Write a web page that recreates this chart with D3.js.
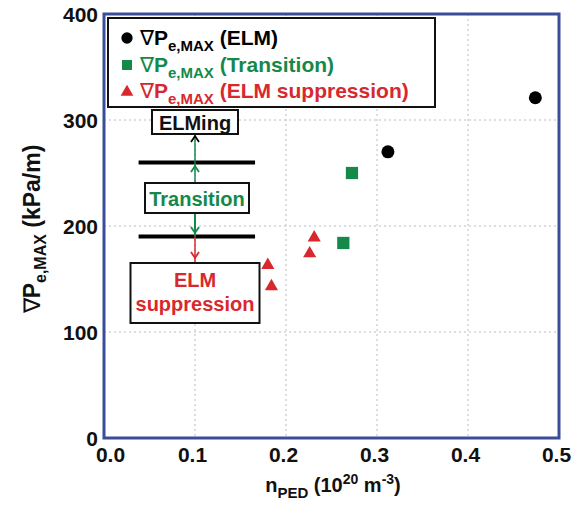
<!DOCTYPE html>
<html><head><meta charset="utf-8">
<script src="https://cdn.jsdelivr.net/npm/d3@7"></script>
<style>body{margin:0;background:#fff}svg{display:block}text{font-family:"Liberation Sans",Arial,sans-serif;font-weight:bold}</style>
</head><body>
<svg id="c" width="579" height="510"></svg>
<script>
// data
const elmX = [0.312, 0.474];
const elmY = [270, 321];
const transX = [0.2725, 0.263];
const transY = [250, 184];
const suppX = [0.231, 0.226, 0.180, 0.184];
const suppY = [189, 174, 163, 143];
const xTicks = [0.0, 0.1, 0.2, 0.3, 0.4, 0.5];
const yTicks = [0, 100, 200, 300, 400];
const thresholds = [260, 190];
const legendLabels = ["(ELM)", "(Transition)", "(ELM suppression)"];

const BLACK = "#000", GREEN = "#14894a", RED = "#d8282e", FRAME = "#3a4d99";
const svg = d3.select("#c");
const x = d3.scaleLinear().domain([0, 0.5]).range([104, 559]);
const y = d3.scaleLinear().domain([0, 400]).range([438, 14]);

// grid
svg.append("g").selectAll("line").data(xTicks.slice(1, -1)).join("line")
  .attr("x1", d => x(d)).attr("x2", d => x(d)).attr("y1", y(400)).attr("y2", y(0))
  .attr("stroke", "#b8bcc8").attr("stroke-width", 1).attr("stroke-dasharray", "2,3");
svg.append("g").selectAll("line").data(yTicks.slice(1, -1)).join("line")
  .attr("y1", d => y(d)).attr("y2", d => y(d)).attr("x1", x(0)).attr("x2", x(0.5))
  .attr("stroke", "#b8bcc8").attr("stroke-width", 1).attr("stroke-dasharray", "2,3");

// axes (labels only)
const xa = svg.append("g").attr("transform", `translate(0,${y(0)})`)
  .call(d3.axisBottom(x).tickValues(xTicks).tickFormat(d3.format(".1f")).tickSize(0).tickPadding(9));
xa.select(".domain").remove();
xa.selectAll("text").attr("font-size", 21).attr("fill", "#111").attr("font-family", null)
  .attr("dx", (d, i) => i === 0 ? 6 : -3);
const ya = svg.append("g").attr("transform", `translate(${x(0)},0)`)
  .call(d3.axisLeft(y).tickValues(yTicks).tickFormat(d3.format("d")).tickSize(0).tickPadding(6));
ya.select(".domain").remove();
ya.selectAll("text").attr("font-size", 21).attr("fill", "#111").attr("font-family", null).attr("dy", "0.36em");

// frame
svg.append("rect").attr("x", x(0)).attr("y", y(400)).attr("width", x(0.5) - x(0)).attr("height", y(0) - y(400))
  .attr("fill", "none").attr("stroke", FRAME).attr("stroke-width", 3);

// legend
const lg = svg.append("g");
lg.append("rect").attr("x", 108).attr("y", 18).attr("width", 327).attr("height", 89)
  .attr("fill", "#fff").attr("stroke", "#111").attr("stroke-width", 2);
const legColors = [BLACK, GREEN, RED];
const legSym = [d3.symbolCircle, d3.symbolSquare, d3.symbolTriangle];
const legY = [38, 65, 91];
legendLabels.forEach((lab, i) => {
  lg.append("path").attr("d", d3.symbol().type(legSym[i]).size(i === 2 ? 70 : 100)())
    .attr("transform", `translate(127,${legY[i] + (i === 2 ? 1 : 0)})`).attr("fill", legColors[i]);
  const t = lg.append("text").attr("x", 140).attr("y", legY[i] + 7).attr("font-size", 21).attr("fill", legColors[i]);
  t.append("tspan").attr("font-weight", "normal").text("\u2207");
  t.append("tspan").text("P");
  t.append("tspan").attr("dy", 6).attr("font-size", 15).text("e,MAX");
  t.append("tspan").attr("dy", -6).text(" " + lab);
});

// annotation
const ann = svg.append("g");
const ax = x(0.1);
thresholds.forEach(v => {
  ann.append("line").attr("x1", x(0.038)).attr("x2", x(0.166)).attr("y1", y(v)).attr("y2", y(v))
    .attr("stroke", "#000").attr("stroke-width", 4);
});
function box(cx, cy, w, h) {
  ann.append("rect").attr("x", cx - w / 2).attr("y", cy - h / 2).attr("width", w).attr("height", h)
    .attr("fill", "#fff").attr("stroke", "#111").attr("stroke-width", 2);
}
function chevron(xx, yy, dir, col) {
  ann.append("path").attr("d", `M${xx - 4},${yy + dir * 6}L${xx},${yy}L${xx + 4},${yy + dir * 6}`)
    .attr("fill", "none").attr("stroke", col).attr("stroke-width", 1.8);
}
ann.append("line").attr("x1", ax).attr("x2", ax).attr("y1", 134).attr("y2", y(260)).attr("stroke", GREEN).attr("stroke-width", 1.5);
ann.append("line").attr("x1", ax).attr("x2", ax).attr("y1", y(260)).attr("y2", 183).attr("stroke", GREEN).attr("stroke-width", 1.5);
ann.append("line").attr("x1", ax).attr("x2", ax).attr("y1", 213).attr("y2", y(190)).attr("stroke", GREEN).attr("stroke-width", 2);
ann.append("line").attr("x1", ax).attr("x2", ax).attr("y1", y(190)).attr("y2", 262).attr("stroke", RED).attr("stroke-width", 1.5);
chevron(ax, 136, 1, "#000");
chevron(ax, 166, 1, GREEN);
chevron(ax, 233, -1, GREEN);
chevron(ax, 258, -1, RED);
box(195, 122, 86, 24);
ann.append("text").attr("x", 195).attr("y", 130).attr("text-anchor", "middle").attr("font-size", 20).attr("fill", "#111").text("ELMing");
box(197, 198, 104, 30);
ann.append("text").attr("x", 197).attr("y", 206).attr("text-anchor", "middle").attr("font-size", 20).attr("fill", GREEN).text("Transition");
box(195, 293, 129, 60);
ann.append("text").attr("x", 195).attr("y", 287).attr("text-anchor", "middle").attr("font-size", 20).attr("fill", RED).text("ELM");
ann.append("text").attr("x", 195).attr("y", 311).attr("text-anchor", "middle").attr("font-size", 20).attr("fill", RED).text("suppression");

// points
const pts = svg.append("g");
pts.selectAll(".e").data(elmX.map((d, i) => [d, elmY[i]])).join("circle")
  .attr("cx", d => x(d[0])).attr("cy", d => y(d[1])).attr("r", 6.5).attr("fill", BLACK);
pts.selectAll(".t").data(transX.map((d, i) => [d, transY[i]])).join("path")
  .attr("d", d3.symbol().type(d3.symbolSquare).size(150)())
  .attr("transform", d => `translate(${x(d[0])},${y(d[1])})`).attr("fill", GREEN);
pts.selectAll(".s").data(suppX.map((d, i) => [d, suppY[i]])).join("path")
  .attr("d", d3.symbol().type(d3.symbolTriangle).size(75)())
  .attr("transform", d => `translate(${x(d[0])},${y(d[1])})`).attr("fill", RED);

// axis titles
const yt = svg.append("text").attr("transform", `translate(40,${229}) rotate(-90)`)
  .attr("text-anchor", "middle").attr("font-size", 23).attr("fill", "#111");
yt.append("tspan").attr("font-weight", "normal").text("\u2207");
yt.append("tspan").text("P");
yt.append("tspan").attr("dy", 6).attr("font-size", 16).text("e,MAX");
yt.append("tspan").attr("dy", -6).text(" (kPa/m)");
const xt = svg.append("text").attr("x", 333).attr("y", 492).attr("text-anchor", "middle").attr("font-size", 20).attr("fill", "#111");
xt.append("tspan").text("n");
xt.append("tspan").attr("dy", 6).attr("font-size", 15).text("PED");
xt.append("tspan").attr("dy", -6).text(" (10");
xt.append("tspan").attr("dy", -8).attr("font-size", 14).text("20");
xt.append("tspan").attr("dy", 8).text(" m");
xt.append("tspan").attr("dy", -8).attr("font-size", 14).text("-3");
xt.append("tspan").attr("dy", 8).text(")");
</script>
</body></html>
